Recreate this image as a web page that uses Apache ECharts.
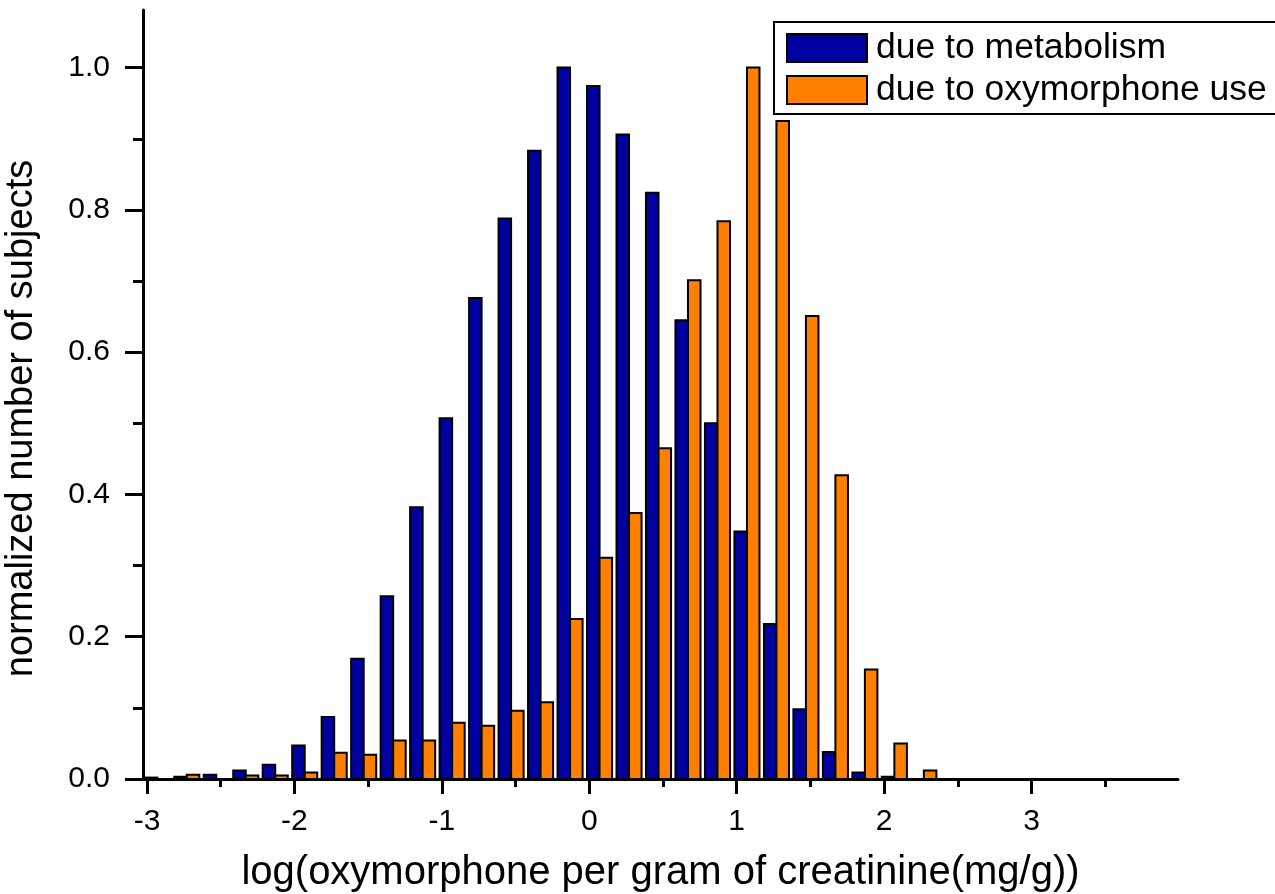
<!DOCTYPE html>
<html>
<head>
<meta charset="utf-8">
<script src="https://cdn.jsdelivr.net/npm/echarts@6/dist/echarts.min.js"></script>
<style>
  html, body { margin: 0; padding: 0; background: #fff; }
  #chart { width: 1275px; height: 894px; }
</style>
</head>
<body>
<div id="chart"></div>
<script>
// bin positions (boundary between the two bars of each bin)
const binX = [-2.93, -2.73, -2.53, -2.33, -2.13, -1.93, -1.73, -1.53, -1.33, -1.13,
  -0.93, -0.73, -0.53, -0.33, -0.13, 0.07, 0.27, 0.47, 0.67, 0.87,
  1.07, 1.27, 1.47, 1.67, 1.87, 2.07, 2.27];
const metabolism = [0.002, 0.003, 0.006, 0.012, 0.020, 0.047, 0.087, 0.169, 0.257, 0.382,
  0.507, 0.676, 0.788, 0.883, 1.0, 0.974, 0.906, 0.824, 0.645, 0.500,
  0.348, 0.218, 0.098, 0.038, 0.009, 0.003, 0];
const oxyUse = [0, 0.006, 0, 0.005, 0.005, 0.009, 0.037, 0.034, 0.054, 0.054,
  0.079, 0.075, 0.096, 0.108, 0.225, 0.311, 0.374, 0.465, 0.701, 0.784,
  1.0, 0.925, 0.651, 0.427, 0.154, 0.050, 0.012];
const seriesNames = ["due to metabolism", "due to oxymorphone use"];
const xMajor = [-3, -2, -1, 0, 1, 2, 3];
const xMinor = [-2.5, -1.5, -0.5, 0.5, 1.5, 2.5, 3.5];
const yMajor = [0, 0.2, 0.4, 0.6, 0.8, 1.0];
const yMinor = [0.1, 0.3, 0.5, 0.7, 0.9];

const FONT = "'Liberation Sans', Arial, sans-serif";
const HALF = 0.085; // bar width in x units

function barSeries(name, values, color, side) {
  return {
    type: "custom",
    name,
    itemStyle: { color },
    data: binX.map((x, i) => [x, values[i]]),
    encode: { x: 0, y: 1 },
    renderItem(params, api) {
      const x = api.value(0);
      const x0 = side < 0 ? x - HALF : x;
      const p1 = api.coord([x0, api.value(1)]);
      const p2 = api.coord([x0 + HALF, 0]);
      return {
        type: "rect",
        shape: { x: p1[0], y: p1[1], width: p2[0] - p1[0], height: p2[1] - p1[1] },
        style: { fill: color, stroke: "#000", lineWidth: 2 }
      };
    }
  };
}

const chart = echarts.init(document.getElementById("chart"), null, { renderer: "canvas" });
const axisLine = { show: true, onZero: false, lineStyle: { color: "#000", width: 3 } };
chart.setOption({
  animation: false,
  backgroundColor: "#fff",
  textStyle: { fontFamily: FONT },
  grid: { left: 143, right: 97, top: 10, bottom: 115, outerBoundsMode: "none", containLabel: false },
  legend: {
    left: 774, top: 22,
    orient: "vertical",
    padding: [8, 30, 6, 12],
    borderColor: "#000", borderWidth: 2,
    itemWidth: 80, itemHeight: 28, itemGap: 6,
    icon: "rect",
    itemStyle: { borderColor: "#000", borderWidth: 2 },
    textStyle: { fontFamily: FONT, fontSize: 35.5, color: "#000", lineHeight: 28, padding: [0, 0, 0, 4] },
    data: seriesNames
  },
  xAxis: [{
    type: "value", position: "bottom", min: -3.027, max: 3.994,
    axisLine,
    splitLine: { show: false },
    axisTick: { customValues: xMajor, length: 15, lineStyle: { color: "#000", width: 3 } },
    axisLabel: { customValues: xMajor, margin: 28, fontSize: 30, color: "#000", fontFamily: FONT },
    name: "log(oxymorphone per gram of creatinine(mg/g))",
    nameLocation: "middle", nameGap: 74,
    nameTextStyle: { fontSize: 40, color: "#000", fontFamily: FONT }
  }, {
    type: "value", position: "bottom", min: -3.027, max: 3.994,
    axisLine: { show: false, onZero: false },
    splitLine: { show: false },
    axisTick: { customValues: xMinor, length: 8, lineStyle: { color: "#000", width: 3 } },
    axisLabel: { show: false }
  }],
  yAxis: [{
    type: "value", position: "left", min: 0, max: 1.081,
    axisLine,
    splitLine: { show: false },
    axisTick: { customValues: yMajor, length: 18, lineStyle: { color: "#000", width: 3 } },
    axisLabel: { customValues: yMajor, margin: 33, fontSize: 30, color: "#000", fontFamily: FONT,
      formatter: (v) => v.toFixed(1) },
    name: "normalized number of subjects",
    nameLocation: "middle", nameGap: 102,
    nameTextStyle: { fontSize: 38, color: "#000", fontFamily: FONT, padding: [0, 48, 0, 0] }
  }, {
    type: "value", position: "left", min: 0, max: 1.081,
    axisLine: { show: false, onZero: false },
    splitLine: { show: false },
    axisTick: { customValues: yMinor, length: 10, lineStyle: { color: "#000", width: 3 } },
    axisLabel: { show: false }
  }],
  series: [
    barSeries(seriesNames[0], metabolism, "#0000A0", -1),
    barSeries(seriesNames[1], oxyUse, "#FF8000", 1)
  ]
});
</script>
</body>
</html>
